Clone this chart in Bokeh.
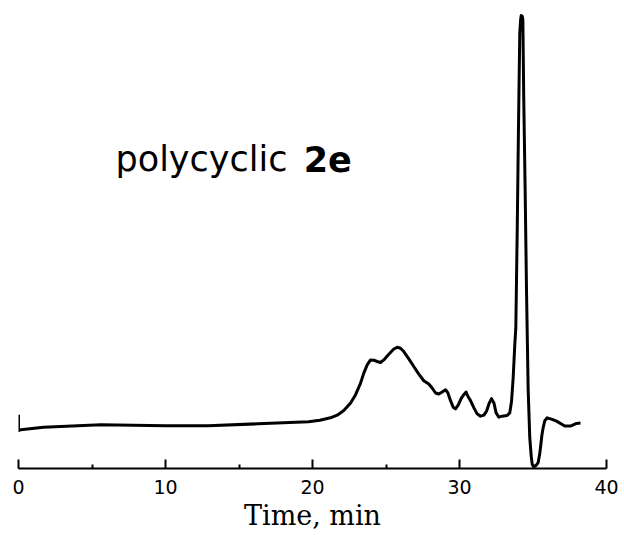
from bokeh.plotting import figure
from bokeh.models import Range1d, FixedTicker, Label
from bokeh.embed import file_html
from bokeh.resources import INLINE

# Chromatogram trace (time in min, detector signal in arbitrary units)
time_min = [0, 0, 0.15, 1.7, 5.6, 10.0, 12.9, 16.3, 19.73, 20.5, 21.22, 21.68,
            22.13, 22.59, 22.93, 23.27, 23.49, 23.72, 23.95, 24.17, 24.40, 24.63,
            24.85, 25.19, 25.53, 25.76, 25.99, 26.21, 26.55, 26.89, 27.23, 27.57,
            27.91, 28.14, 28.37, 28.59, 28.82, 29.05, 29.21, 29.39, 29.57, 29.73,
            29.91, 30.11, 30.29, 30.45, 30.57, 30.75, 30.98, 31.20, 31.43, 31.66,
            31.84, 32.00, 32.18, 32.34, 32.49, 32.68, 32.90, 33.24, 33.42, 33.54,
            33.65, 33.76, 33.83, 33.93, 34.01, 34.10, 34.16, 34.20, 34.27, 34.31,
            34.37, 34.47, 34.56, 34.67, 34.78, 34.88, 34.95, 35.05, 35.20, 35.35,
            35.45, 35.51, 35.60, 35.69, 35.80, 35.97, 36.30, 36.60, 37.16, 37.55,
            37.96, 38.23]
signal = [54, 38, 39, 41.5, 44, 43, 43, 45, 47, 48.5, 51, 53.7,
          58.3, 66, 74.3, 86, 96, 104.3, 109.3, 109, 107.7, 106.7,
          109.3, 115, 120.3, 122, 121, 117.7, 110.3, 102.7, 95, 88.3,
          85, 81, 76, 75, 77, 79.3, 76, 68.3, 61.7, 60,
          63.7, 70.3, 74.3, 77, 72.7, 68.3, 61, 55, 52.7, 53.7,
          57.7, 65, 70.3, 66, 56, 51.7, 52.7, 53.3, 56, 67.7,
          91, 124.3, 141, 243, 341, 438, 452, 456, 455, 452,
          373, 276, 178, 80, 31, 12, 4, 2, 3, 6,
          14, 21, 33, 41, 48, 51, 49.5, 47.7, 42.7, 42.7,
          45.3, 45.7]

major_ticks = [0, 10, 20, 30, 40]
minor_ticks = [5, 15, 25, 35]
x_label = "Time, min"
title_main = "polycyclic"
title_bold = "2e"

p = figure(frame_width=588, frame_height=460, output_backend="svg", toolbar_location=None,
           x_range=Range1d(0, 40), y_range=Range1d(0, 463),
           y_axis_location=None, min_border_left=18, min_border_right=14,
           min_border_top=8, min_border_bottom=60)
p.outline_line_color = None
p.grid.visible = False
p.background_fill_color = "white"

p.line(time_min, signal, line_color="black", line_width=3, line_join="round")

ax = p.xaxis[0]
ax.ticker = FixedTicker(ticks=major_ticks, minor_ticks=minor_ticks)
ax.axis_line_width = 2
ax.axis_line_color = "black"
ax.major_tick_in = 9
ax.major_tick_out = 0
ax.minor_tick_in = 4
ax.minor_tick_out = 0
ax.major_tick_line_width = 2
ax.minor_tick_line_width = 2
ax.major_tick_line_color = "black"
ax.minor_tick_line_color = "black"
ax.major_label_text_font = "DejaVu Sans"
ax.major_label_text_font_size = "19px"
ax.major_label_text_color = "black"
ax.major_label_standoff = 11
ax.axis_label = x_label
ax.axis_label_text_font = "DejaVu Serif"
ax.axis_label_text_font_size = "27px"
ax.axis_label_text_font_style = "normal"
ax.axis_label_text_color = "black"
ax.axis_label_standoff = 3

p.add_layout(Label(x=6.6, y=312, text=title_main, text_font="DejaVu Sans",
                   text_font_size="35px", text_color="black",
                   text_baseline="alphabetic", text_align="left"))
p.add_layout(Label(x=19.4, y=312, text=title_bold, text_font="DejaVu Sans",
                   text_font_size="35px", text_font_style="bold", text_color="black",
                   text_baseline="alphabetic", text_align="left"))

open("out.html", "w").write(file_html(p, INLINE))
